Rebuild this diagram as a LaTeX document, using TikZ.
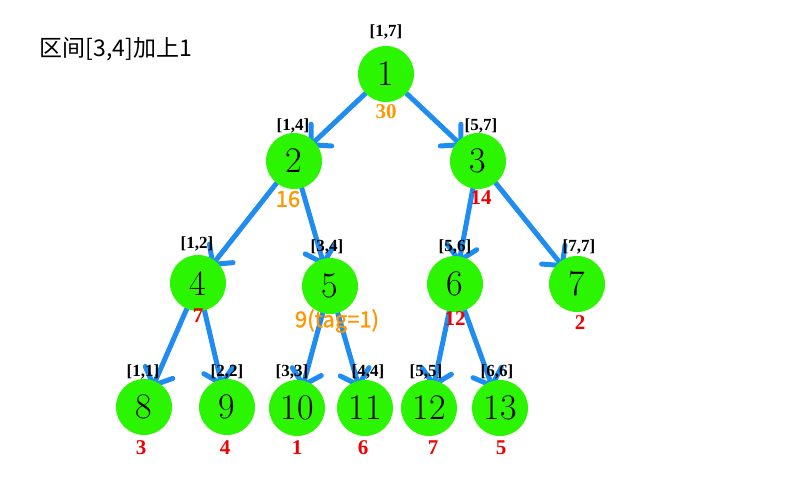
\documentclass[tikz,border=0pt]{standalone}
\usepackage{fontspec}
\newfontfamily\cjk{Noto Sans CJK SC}
\newfontfamily\cjkb[FakeBold=1.2]{Noto Sans CJK SC}
\newfontfamily\tms{Liberation Serif}
\usetikzlibrary{arrows.meta,backgrounds}
\definecolor{nodegreen}{RGB}{43,245,0}
\definecolor{edgeblue}{RGB}{30,140,240}
\definecolor{valorange}{RGB}{255,150,0}
\definecolor{valred}{RGB}{240,0,0}
\tikzset{
 tn/.style={circle,fill=nodegreen,minimum size=56pt,inner sep=0pt,font=\fontsize{36}{36}\selectfont},
 rng/.style={inner sep=0pt,font=\tms\bfseries\fontsize{17}{17}\selectfont},
 redv/.style={inner sep=0pt,text=valred,font=\tms\bfseries\fontsize{21}{21}\selectfont},
 orv/.style={inner sep=0pt,text=valorange,font=\tms\bfseries\fontsize{21}{21}\selectfont},
 ors/.style={inner sep=0pt,text=valorange,font=\cjkb\fontsize{22}{22}\selectfont},
 titl/.style={inner sep=0pt,font=\cjk\fontsize{23}{23}\selectfont},
 link/.style={draw=edgeblue,line width=5pt,line cap=round,shorten >=-7pt,-{Straight Barb[length=14pt,width=30pt,round]}}
}
\begin{document}
\begin{tikzpicture}[x=1pt,y=-1pt]
\useasboundingbox (0,0) rectangle (800,500);
\node[titl] (title) at (116,49) {区间[3,4]加上1};
% tree nodes
\node[tn] (n1) at (386,74) {1};
\node[tn] (n2) at (294,161) {2};
\node[tn] (n3) at (478,161) {3};
\node[tn] (n4) at (198,283) {4};
\node[tn] (n5) at (330,286) {5};
\node[tn] (n6) at (455,284) {6};
\node[tn] (n7) at (577,284) {7};
\node[tn] (n8) at (144,407) {8};
\node[tn] (n9) at (227,407) {9};
\node[tn] (n10) at (297,408) {10};
\node[tn] (n11) at (365,408) {11};
\node[tn] (n12) at (429,408) {12};
\node[tn] (n13) at (500,408) {13};
% edges
\begin{scope}[on background layer]
\draw[link] (n1) -- (n2);
\draw[link] (n1) -- (n3);
\draw[link] (n2) -- (n4);
\draw[link] (n2) -- (n5);
\draw[link] (n3) -- (n6);
\draw[link] (n3) -- (n7);
\draw[link] (n4) -- (n8);
\draw[link] (n4) -- (n9);
\draw[link] (n5) -- (n10);
\draw[link] (n5) -- (n11);
\draw[link] (n6) -- (n12);
\draw[link] (n6) -- (n13);
\end{scope}
% range labels
\node[rng] (r1) at (386,32) {[1,7]};
\node[rng] (r2) at (293,126) {[1,4]};
\node[rng] (r3) at (481,126) {[5,7]};
\node[rng] (r4) at (197,244) {[1,2]};
\node[rng] (r5) at (327,247) {[3,4]};
\node[rng] (r6) at (455,247) {[5,6]};
\node[rng] (r7) at (579,247) {[7,7]};
\node[rng] (r8) at (143,372) {[1,1]};
\node[rng] (r9) at (227,372) {[2,2]};
\node[rng] (r10) at (292,372) {[3,3]};
\node[rng] (r11) at (368,372) {[4,4]};
\node[rng] (r12) at (426,372) {[5,5]};
\node[rng] (r13) at (497,372) {[6,6]};
% values
\node[orv] (v1) at (386,112) {30};
\node[ors] (v2) at (288,199) {16};
\node[redv] (v3) at (481,198) {14};
\node[redv] (v4) at (198,316) {7};
\node[ors] (v5) at (337,321) {9(tag=1)};
\node[redv] (v6) at (455,319) {12};
\node[redv] (v7) at (580,323) {2};
\node[redv] (v8) at (141,448) {3};
\node[redv] (v9) at (225,448) {4};
\node[redv] (v10) at (297,448) {1};
\node[redv] (v11) at (363,448) {6};
\node[redv] (v12) at (433,448) {7};
\node[redv] (v13) at (501,448) {5};
\end{tikzpicture}
\end{document}
